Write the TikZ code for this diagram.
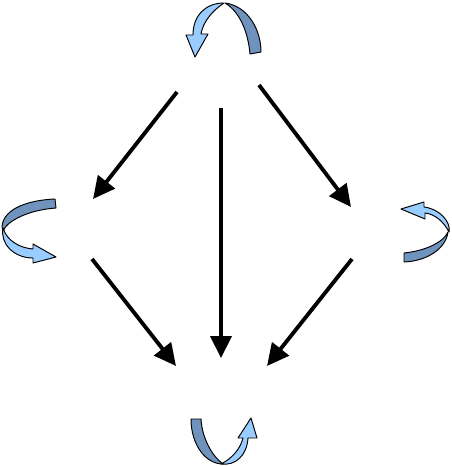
\documentclass[tikz,border=0pt]{standalone}
\usepackage{tikz}
\usetikzlibrary{arrows.meta}
\usepackage{xcolor}
\definecolor{myback}{RGB}{111,147,189}
\definecolor{myfront}{RGB}{153,204,255}
\tikzset{
  flow/.style={line width=2.2pt,draw=black,-{Triangle[length=12.5pt,width=12pt]}},
  loopback/.style={fill=myback,draw=black,line width=0.55pt,line join=round},
  loopfront/.style={fill=myfront,draw=black,line width=0.55pt,line join=round}
}
\begin{document}
\begin{tikzpicture}[x=0.02cm,y=-0.02cm]
  \useasboundingbox (0,0) rectangle (451,466);
  % ends of the straight arrows
  \coordinate (topL) at (177,92);
  \coordinate (topM) at (221,108);
  \coordinate (topR) at (259,85);
  \coordinate (leftIn) at (93,199);
  \coordinate (leftOut) at (92,259);
  \coordinate (rightIn) at (351,207);
  \coordinate (rightOut) at (352,259);
  \coordinate (botL) at (176,366);
  \coordinate (botM) at (221,358);
  \coordinate (botR) at (267,366);
  \foreach \a/\b in {topL/leftIn,topM/botM,topR/rightIn,leftOut/botL,rightOut/botR}{
    \draw[flow] (\a)--(\b);}
  % top loop
  \draw[loopback] (225,3) .. controls (248,6) and (261,30) .. (261,52)
    -- (250,54) .. controls (248,32) and (240,12) .. (225,3) -- cycle;
  \draw[loopfront] (224,3) .. controls (206,3) and (193,15) .. (193,35)
    -- (186,35) -- (195,57) -- (208,34) -- (201,34)
    .. controls (203,22) and (212,11) .. (224,3) -- cycle;
  % left loop
  \draw[loopback] (55,199) .. controls (30,200) and (3,208) .. (2,227)
    -- (3,231) .. controls (7,221) and (28,210) .. (56,208) -- cycle;
  \draw[loopfront] (3,228) .. controls (0,244) and (14,258) .. (33,258)
    -- (33,263) -- (56,257) -- (33,244) -- (33,249)
    .. controls (20,248) and (7,241) .. (3,228) -- cycle;
  % right loop
  \draw[loopback] (448,232) .. controls (446,248) and (428,261) .. (404,262)
    -- (404,253) .. controls (424,251) and (443,243) .. (448,232) -- cycle;
  \draw[loopfront] (449,232) .. controls (451,222) and (440,209) .. (424,207)
    -- (424,202) -- (401,209) -- (425,219) -- (425,213)
    .. controls (435,214) and (444,222) .. (449,232) -- cycle;
  % bottom loop
  \draw[loopback] (191,419) -- (201,419) .. controls (202,438) and (212,456) .. (223,464)
    .. controls (205,464) and (191,444) .. (191,419) -- cycle;
  \draw[loopfront] (221,464) .. controls (236,466) and (247,455) .. (248,438)
    -- (257,438) -- (251,418) -- (238,438) -- (243,438)
    .. controls (240,450) and (231,459) .. (221,464) -- cycle;
\end{tikzpicture}
\end{document}
